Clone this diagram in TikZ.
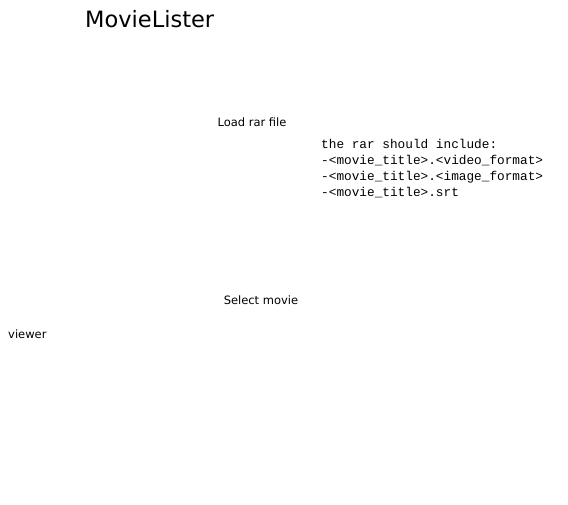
\documentclass[tikz,border=0pt]{standalone}
\usepackage{fontspec}
\setmainfont{DejaVu Sans}
\newfontfamily\monofnt{Liberation Mono}
\begin{document}
\begin{tikzpicture}[x=1pt,y=-1pt,
  lbl/.style={inner sep=0pt,font=\fontsize{11.5}{13}\selectfont,anchor=base},
  ttl/.style={inner sep=0pt,font=\fontsize{22.5}{26}\selectfont,anchor=base west},
  note/.style={inner sep=0pt,font=\monofnt\fontsize{12.75}{16}\selectfont,anchor=north west,align=left}]
\useasboundingbox[fill=white] (0,0) rectangle (568,505);
\node[ttl] (title) at (85,28) {MovieLister};
\node[lbl] (load) at (252,127) {Load rar file};
\node[note] (rarnote) at (321,139) {the rar should include:\\-<movie\_title>.<video\_format>\\-<movie\_title>.<image\_format>\\-<movie\_title>.srt};
\node[lbl] (select) at (261,305) {Select movie};
\node[lbl,anchor=base west] (viewer) at (8,338) {viewer};
\end{tikzpicture}
\end{document}
